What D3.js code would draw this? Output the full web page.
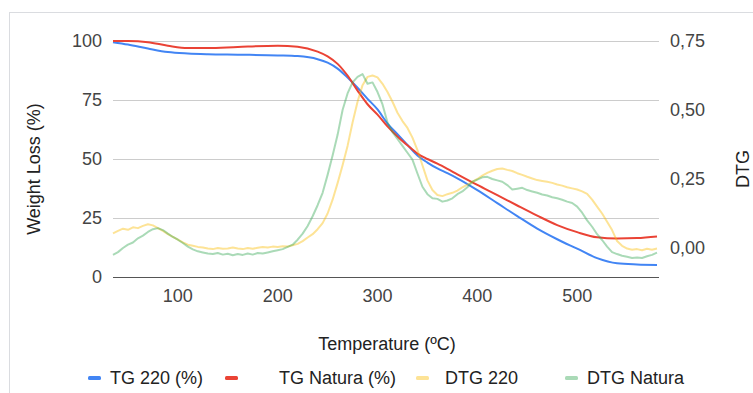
<!DOCTYPE html>
<html>
<head>
<meta charset="utf-8">
<script src="https://cdn.jsdelivr.net/npm/d3@7"></script>
<style>
  body { margin: 0; background: #fff; }
  text { font-family: "Liberation Sans", Arial, sans-serif; }
</style>
</head>
<body>
<svg id="chart"></svg>
<script>
// TG curves (left axis, %)
const tempTG = [35, 50, 70, 90, 110, 130, 160, 200, 220, 240, 250, 260, 270, 280, 290, 300, 310, 320, 330, 340, 350, 360, 370, 380, 400, 420, 440, 460, 480, 500, 520, 540, 560, 580];
const tg220 = [99.5, 98.5, 96.8, 95.3, 94.7, 94.4, 94.2, 93.9, 93.6, 92.3, 90.8, 88.3, 84.5, 80.2, 75.5, 71, 65, 60.5, 56, 51.5, 48.5, 46, 44, 41.8, 36.8, 31.3, 25.8, 20.5, 16, 12, 8, 5.8, 5.3, 5.1];
const tgNatura = [100, 100, 99.5, 98, 97, 97, 97.5, 98, 97.6, 95.5, 93.5, 90.3, 85.3, 79, 73.2, 68.8, 63.8, 59.5, 55.8, 52.3, 50, 48, 45.8, 43.5, 39, 34.7, 30.3, 26, 22, 19, 16.8, 16.3, 16.5, 17.2];

// DTG curves (right axis)
const tempDTG = d3.range(35, 581, 5);
const dtg220 = [
  0.053, 0.062, 0.070, 0.066, 0.075, 0.072, 0.080, 0.086, 0.082, 0.072,
  0.062, 0.050, 0.040, 0.030, 0.020, 0.012, 0.008, 0.004, 0.002, -0.002,
  -0.004, 0.000, -0.003, -0.002, 0.002, -0.002, -0.004, 0.000, -0.003, 0.001,
  0.004, 0.002, 0.005, 0.004, 0.006, 0.005, 0.010, 0.015, 0.025, 0.038,
  0.050, 0.068, 0.090, 0.125, 0.175, 0.235, 0.300, 0.370, 0.455, 0.530,
  0.590, 0.620, 0.625, 0.618, 0.595, 0.565, 0.530, 0.490, 0.460, 0.435,
  0.400, 0.355, 0.300, 0.245, 0.210, 0.192, 0.188, 0.195, 0.200, 0.208,
  0.220, 0.230, 0.240, 0.250, 0.262, 0.272, 0.280, 0.286, 0.288, 0.283,
  0.279, 0.271, 0.265, 0.258, 0.252, 0.246, 0.243, 0.240, 0.236, 0.230,
  0.226, 0.220, 0.216, 0.212, 0.205, 0.196, 0.175, 0.150, 0.125, 0.095,
  0.065, 0.025, 0.008, -0.002, -0.006, -0.004, -0.008, -0.003, -0.006, -0.002
];
const dtgNatura = [
  -0.025, -0.015, 0.000, 0.012, 0.020, 0.035, 0.045, 0.058, 0.068, 0.072,
  0.065, 0.052, 0.040, 0.030, 0.018, 0.005, -0.005, -0.012, -0.016, -0.020,
  -0.022, -0.018, -0.024, -0.021, -0.026, -0.022, -0.025, -0.020, -0.024, -0.018,
  -0.020, -0.016, -0.012, -0.008, -0.004, 0.004, 0.012, 0.030, 0.052, 0.080,
  0.115, 0.155, 0.200, 0.265, 0.335, 0.410, 0.500, 0.560, 0.600, 0.620,
  0.630, 0.595, 0.600, 0.565, 0.520, 0.455, 0.420, 0.395, 0.370, 0.345,
  0.320, 0.270, 0.222, 0.195, 0.180, 0.178, 0.168, 0.172, 0.180, 0.195,
  0.205, 0.220, 0.240, 0.248, 0.256, 0.258, 0.250, 0.245, 0.240, 0.228,
  0.212, 0.215, 0.218, 0.210, 0.205, 0.200, 0.194, 0.190, 0.184, 0.180,
  0.175, 0.168, 0.163, 0.150, 0.128, 0.100, 0.077, 0.050, 0.029, 0.005,
  -0.015, -0.022, -0.028, -0.032, -0.036, -0.034, -0.036, -0.030, -0.025, -0.017
];

const xTicks = [100, 200, 300, 400, 500];
const leftTicks = [0, 25, 50, 75, 100];
const rightTicks = [0, 0.25, 0.5, 0.75];

const seriesNames = ["TG 220 (%)", "TG Natura (%)", "DTG 220", "DTG Natura"];
const seriesColors = ["#4285f4", "#ea4335", "#fbbc04", "#34a853"];

const width = 753, height = 393;
const fs = 18;
const svg = d3.select("#chart").attr("width", width).attr("height", height);

// outer frame
svg.append("rect")
    .attr("x", 9.5).attr("y", 12.5)
    .attr("width", 800).attr("height", 420)
    .attr("fill", "none").attr("stroke", "#dadce0");

const plot = { left: 113, right: 659, top: 41, bottom: 277 };

const x = d3.scaleLinear().domain([35, 582]).range([plot.left, plot.right]);
const yL = d3.scaleLinear().domain([0, 100]).range([plot.bottom, plot.top]);
const yR = d3.scaleLinear().domain([0, 0.75]).range([248, plot.top]);

// gridlines
svg.append("g").selectAll("line")
    .data(leftTicks.filter(d => d > 0))
    .join("line")
    .attr("x1", plot.left).attr("x2", plot.right)
    .attr("y1", d => yL(d) + 0.5).attr("y2", d => yL(d) + 0.5)
    .attr("stroke", "#cccccc");

// left tick labels
svg.append("g").selectAll("text")
    .data(leftTicks)
    .join("text")
    .attr("x", 102).attr("y", d => yL(d))
    .attr("dy", "0.35em")
    .attr("text-anchor", "end")
    .attr("font-size", fs)
    .attr("fill", "#444")
    .text(d => d);

// right tick labels
const fmtR = d => d3.format(".2f")(d).replace(".", ",");
svg.append("g").selectAll("text")
    .data(rightTicks)
    .join("text")
    .attr("x", 670).attr("y", d => yR(d))
    .attr("dy", "0.35em")
    .attr("font-size", fs)
    .attr("fill", "#444")
    .text(fmtR);

// x tick labels
svg.append("g").selectAll("text")
    .data(xTicks)
    .join("text")
    .attr("x", d => x(d)).attr("y", 296)
    .attr("dy", "0.35em")
    .attr("text-anchor", "middle")
    .attr("font-size", fs)
    .attr("fill", "#444")
    .text(d => d);

// axis titles
svg.append("text")
    .attr("x", 387).attr("y", 344).attr("dy", "0.35em")
    .attr("text-anchor", "middle")
    .attr("font-size", fs).attr("fill", "#222")
    .text("Temperature (ºC)");

svg.append("text")
    .attr("transform", "translate(34,169) rotate(-90)")
    .attr("dy", "0.35em")
    .attr("text-anchor", "middle")
    .attr("font-size", fs).attr("fill", "#222")
    .text("Weight Loss (%)");

svg.append("text")
    .attr("transform", "translate(743,169) rotate(-90)")
    .attr("dy", "0.35em")
    .attr("text-anchor", "middle")
    .attr("font-size", fs).attr("fill", "#222")
    .text("DTG");

// lines
const lineL = d3.line().x(d => x(d[0])).y(d => yL(d[1])).curve(d3.curveMonotoneX);
const lineR = d3.line().x(d => x(d[0])).y(d => yR(d[1]));

const series = [
    { pts: d3.zip(tempTG, tg220), gen: lineL, color: seriesColors[0], op: 1 },
    { pts: d3.zip(tempTG, tgNatura), gen: lineL, color: seriesColors[1], op: 1 },
    { pts: d3.zip(tempDTG, dtg220), gen: lineR, color: seriesColors[2], op: 0.42 },
    { pts: d3.zip(tempDTG, dtgNatura), gen: lineR, color: seriesColors[3], op: 0.42 }
];

series.forEach(s => {
    svg.append("path")
        .attr("d", s.gen(s.pts))
        .attr("fill", "none")
        .attr("stroke", s.color)
        .attr("stroke-opacity", s.op)
        .attr("stroke-width", 2)
        .attr("stroke-linejoin", "round");
});

// baseline
svg.append("line")
    .attr("x1", plot.left).attr("x2", plot.right)
    .attr("y1", plot.bottom + 0.5).attr("y2", plot.bottom + 0.5)
    .attr("stroke", "#555");

// legend
const legendX = [88, 225, 416, 565];
const legendTextX = [110, 279, 445, 587];
const legend = svg.append("g");
seriesNames.forEach((name, i) => {
    legend.append("rect")
        .attr("x", legendX[i]).attr("y", 376)
        .attr("width", 13).attr("height", 4).attr("rx", 1.5)
        .attr("fill", seriesColors[i])
        .attr("fill-opacity", i < 2 ? 1 : 0.42);
    legend.append("text")
        .attr("x", legendTextX[i]).attr("y", 378)
        .attr("dy", "0.35em")
        .attr("font-size", fs).attr("fill", "#222")
        .text(name);
});
</script>
</body>
</html>
